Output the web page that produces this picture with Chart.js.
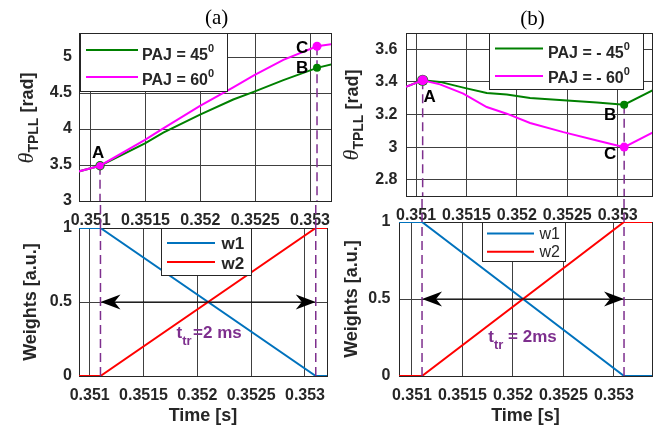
<!DOCTYPE html>
<html>
<head>
<meta charset="utf-8">
<title>PLL angle and weights during the transition</title>
<script src="https://cdn.jsdelivr.net/npm/chart.js@4.4.1/dist/chart.umd.min.js"></script>
<style>
  html, body { margin: 0; background: #fff; }
  #fig { position: relative; width: 657px; height: 428px; overflow: hidden; }
  #fig canvas { position: absolute; left: 0; top: 0; }
</style>
</head>
<body>
<div id="fig">
  <canvas id="thetaA" width="657" height="428"></canvas>
  <canvas id="thetaB" width="657" height="428"></canvas>
  <canvas id="weightsA" width="657" height="428"></canvas>
  <canvas id="weightsB" width="657" height="428"></canvas>
</div>
<script>
// (a) PLL angle [rad] vs time [s], PAJ = 45 and 60 deg
const timeA = [0.35089, 0.351085, 0.351495, 0.351662, 0.351997, 0.3523, 0.352492, 0.352757, 0.353064, 0.3532];
const pajA45 = [3.41, 3.49, 3.80, 3.95, 4.20, 4.41, 4.52, 4.68, 4.85, 4.90];
const pajA60 = [3.41, 3.49, 3.85, 4.01, 4.32, 4.58, 4.75, 4.96, 5.15, 5.18];

// (b) PAJ = -45 and -60 deg
const timeB = [0.3509, 0.351066, 0.351238, 0.351469, 0.351701, 0.3519, 0.352131, 0.352461, 0.352793, 0.353064, 0.35335];
const pajB45 = [3.37, 3.41, 3.40, 3.365, 3.332, 3.322, 3.301, 3.287, 3.273, 3.26, 3.35];
const pajB60 = [3.37, 3.41, 3.385, 3.328, 3.246, 3.205, 3.148, 3.092, 3.041, 3.00, 3.09];

// point A = start of the switch, B / C = end of it
const startA = 1, endA = 8;
const startB = 1, endB = 9;

// blending weights, 2 ms ramp
const timeWa = [0.35089, 0.3511, 0.3531, 0.35321];
const timeWb = [0.35087, 0.3511, 0.3531, 0.35338];
const w1 = [1, 1, 0, 0];
const w2 = [0, 0, 1, 1];

const xTickLabels = ['0.351', '0.3515', '0.352', '0.3525', '0.353'];
const yTicksThetaA = ['3', '3.5', '4', '4.5', '5'];
const yTicksThetaB = ['2.8', '3', '3.2', '3.4', '3.6'];
const yTicksW = ['0', '0.5', '1'];

const xLimThetaA = [0.3508933, 0.3531915], yLimThetaA = [3, 5.334];
const xLimThetaB = [0.3509008, 0.35334], yLimThetaB = [2.7, 3.7];
const xLimWa = [0.3509006, 0.3532044], xLimWb = [0.350872, 0.353377], yLimW = [0, 1];

const W = 657, H = 428;
const areaThetaA = { left: 79, top: 33, right: 331, bottom: 201 };
const areaWa = { left: 79, top: 228, right: 327, bottom: 376 };
const areaThetaB = { left: 406, top: 33, right: 652, bottom: 196 };
const areaWb = { left: 399, top: 222, right: 652, bottom: 376 };

const sans = '"Liberation Sans", Arial, Helvetica, sans-serif';
const serif = '"Liberation Serif", "Times New Roman", serif';
const ink = '#262626';
const gridCol = '#404040';
const purple = '#7E2F8E';
const green = '#008000', magenta = '#FF00FF', blue = '#0072BD', red = '#FF0000';
const tickFont = { family: sans, size: 16, weight: 'bold' };
const titleFont = { family: sans, size: 18, weight: 'bold' };

Chart.defaults.font.family = sans;

const pts = (xs, ys) => xs.map((x, i) => ({ x, y: ys[i] }));

function series(xs, ys, color, order, radii) {
  return {
    data: pts(xs, ys),
    borderColor: color,
    backgroundColor: color,
    pointBackgroundColor: color,
    pointBorderColor: color,
    pointBorderWidth: 0,
    pointRadius: radii ? (c => radii[c.dataIndex] || 0) : 0,
    order
  };
}

function guide(x, yFrom, yTo, order) {
  return {
    data: [{ x, y: yFrom }, { x, y: yTo }],
    borderColor: purple, borderWidth: 1.5, borderDash: [9, 5],
    pointRadius: 0, order
  };
}

// text made of runs with their own font / offset (sub- and superscripts)
function rich(ctx, x, y, parts, opts = {}) {
  ctx.save();
  ctx.translate(x, y);
  if (opts.rotate) ctx.rotate(-Math.PI / 2);
  ctx.textBaseline = 'alphabetic';
  ctx.textAlign = 'left';
  let total = 0;
  parts.forEach(p => { ctx.font = p.font; total += ctx.measureText(p.text).width + (p.gap || 0); });
  let cx = opts.align === 'center' ? -total / 2 : 0;
  parts.forEach(p => {
    ctx.font = p.font;
    cx += p.gap || 0;
    ctx.fillStyle = p.color || opts.color || ink;
    ctx.fillText(p.text, cx, p.dy || 0);
    cx += ctx.measureText(p.text).width;
  });
  ctx.restore();
}

function legendBox(ctx, x, y, w, h, rows) {
  ctx.save();
  ctx.fillStyle = '#fff';
  ctx.fillRect(x, y, w, h);
  ctx.strokeStyle = ink;
  ctx.lineWidth = 1;
  ctx.strokeRect(x + 0.5, y + 0.5, w - 1, h - 1);
  rows.forEach(r => {
    ctx.strokeStyle = r.color;
    ctx.lineWidth = 2;
    ctx.beginPath();
    ctx.moveTo(r.x0, r.y);
    ctx.lineTo(r.x1, r.y);
    ctx.stroke();
    rich(ctx, r.tx, r.base, r.parts);
  });
  ctx.restore();
}

const paj = s => [
  { text: s, font: `bold 16px ${sans}` },
  { text: '0', font: `bold 11px ${sans}`, dy: -8 }
];

const ttr = (rest, gap) => [
  { text: 't', font: `bold 17px ${sans}` },
  { text: 'tr', font: `bold 13px ${sans}`, dy: 7 },
  { text: rest, font: `bold 17px ${sans}`, gap }
];

function tag(ctx, s, x, y) {
  ctx.save();
  ctx.font = `bold 17px ${sans}`;
  ctx.fillStyle = '#000';
  ctx.textAlign = 'center';
  ctx.textBaseline = 'middle';
  ctx.fillText(s, x, y);
  ctx.restore();
}

function panelTitle(ctx, s, x, y) {
  ctx.save();
  ctx.font = `21px ${serif}`;
  ctx.fillStyle = '#000';
  ctx.textAlign = 'center';
  ctx.fillText(s, x, y);
  ctx.restore();
}

function thetaTitle(ctx, x, y) {
  rich(ctx, x, y, [
    { text: '\u03B8', font: `italic 22px ${serif}` },
    { text: 'TPLL', font: `bold 14px ${sans}`, dy: 5 },
    { text: ' [rad]', font: `bold 18px ${sans}` }
  ], { rotate: true, align: 'center' });
}

// double-headed arrow spanning the ramp
function arrow(ctx, x0, x1, y) {
  ctx.save();
  ctx.strokeStyle = '#000';
  ctx.fillStyle = '#000';
  ctx.lineWidth = 1.2;
  ctx.beginPath();
  ctx.moveTo(x0 + 4, y);
  ctx.lineTo(x1 - 4, y);
  ctx.stroke();
  [[x0, -1], [x1, 1]].forEach(([tip, dir]) => {
    ctx.beginPath();
    ctx.moveTo(tip, y);
    ctx.lineTo(tip - dir * 20, y - 7.5);
    ctx.lineTo(tip - dir * 14, y);
    ctx.lineTo(tip - dir * 20, y + 7.5);
    ctx.closePath();
    ctx.fill();
  });
  ctx.restore();
}

// dashed guide continued through the gap between the upper and lower axes
function connect(ctx, xs, yFrom, yTo) {
  ctx.save();
  ctx.strokeStyle = purple;
  ctx.lineWidth = 1.5;
  ctx.setLineDash([9, 5]);
  xs.forEach(x => {
    ctx.beginPath();
    ctx.moveTo(x, yFrom);
    ctx.lineTo(x, yTo);
    ctx.stroke();
  });
  ctx.restore();
}

const frame = {
  id: 'frame',
  beforeDatasetsDraw(chart) {
    const { ctx, chartArea: a } = chart;
    ctx.save();
    ctx.strokeStyle = ink;
    ctx.lineWidth = 1;
    ctx.strokeRect(Math.round(a.left) + 0.5, Math.round(a.top) + 0.5,
      Math.round(a.right - a.left), Math.round(a.bottom - a.top));
    ctx.restore();
  }
};

function panel(id, o) {
  const xVals = xTickLabels.map(Number);
  const yVals = o.yTicks.map(Number);
  return new Chart(document.getElementById(id), {
    type: 'line',
    data: { datasets: o.datasets },
    options: {
      responsive: false,
      animation: false,
      devicePixelRatio: 1,
      events: [],
      layout: { padding: { left: o.padLeft, top: o.area.top, right: W - o.area.right, bottom: 0 } },
      plugins: { legend: { display: false }, tooltip: { enabled: false } },
      elements: { line: { borderWidth: 2, tension: 0 }, point: { radius: 0, hoverRadius: 0 } },
      scales: {
        x: {
          type: 'linear', min: o.xLim[0], max: o.xLim[1],
          afterFit: s => { s.height = H - o.area.bottom; },
          afterBuildTicks: s => { s.ticks = xVals.map(v => ({ value: v })); },
          ticks: { padding: 9.5, color: ink, font: tickFont, maxRotation: 0, autoSkip: false,
                   callback: (v, i) => xTickLabels[i] },
          grid: { color: gridCol, lineWidth: 1, drawTicks: false },
          border: { display: false },
          title: o.xTitle
            ? { display: true, text: o.xTitle, color: ink, font: titleFont, padding: { top: 0, bottom: 1 } }
            : { display: false }
        },
        y: {
          type: 'linear', min: o.yLim[0], max: o.yLim[1],
          afterFit: s => { s.width = o.area.left - o.padLeft; },
          afterBuildTicks: s => { s.ticks = yVals.map(v => ({ value: v })); },
          ticks: { padding: o.yPad, color: ink, font: tickFont, callback: (v, i) => o.yTicks[i] },
          grid: { color: gridCol, lineWidth: 1, drawTicks: false },
          border: { display: false },
          title: o.yTitle
            ? { display: true, text: o.yTitle, color: ink, font: titleFont, padding: { top: o.yTitlePad, bottom: 0 } }
            : { display: false }
        }
      }
    },
    plugins: [frame, { id: 'decor', afterDatasetsDraw: chart => o.decor(chart) }]
  });
}

// (a) upper axes
panel('thetaA', {
  area: areaThetaA, padLeft: 0, xLim: xLimThetaA, yLim: yLimThetaA, yTicks: yTicksThetaA, yPad: 7,
  datasets: [
    series(timeA, pajA60, magenta, 0, { [startA]: 3.7, [endA]: 4.5 }),
    series(timeA, pajA45, green, 1, { [startA]: 4.7, [endA]: 4 }),
    guide(timeA[startA], pajA60[startA], yLimThetaA[0], 2),
    guide(timeA[endA], pajA60[endA], yLimThetaA[0], 2)
  ],
  decor: chart => {
    const { ctx } = chart, sx = chart.scales.x, sy = chart.scales.y;
    legendBox(ctx, 80, 33, 148, 59, [
      { color: green, x0: 86, x1: 138, y: 50, tx: 142, base: 59.5, parts: paj('PAJ = 45') },
      { color: magenta, x0: 86, x1: 138, y: 77, tx: 142, base: 85, parts: paj('PAJ = 60') }
    ]);
    tag(ctx, 'A', sx.getPixelForValue(timeA[startA]) - 2, sy.getPixelForValue(pajA60[startA]) - 12);
    tag(ctx, 'C', sx.getPixelForValue(timeA[endA]) - 15, sy.getPixelForValue(pajA60[endA]) + 2);
    tag(ctx, 'B', sx.getPixelForValue(timeA[endA]) - 15, sy.getPixelForValue(pajA45[endA]));
    panelTitle(ctx, '(a)', 216.7, 23.5);
    thetaTitle(ctx, 32.5, 118);
  }
});

// (b) upper axes
panel('thetaB', {
  area: areaThetaB, padLeft: 330, xLim: xLimThetaB, yLim: yLimThetaB, yTicks: yTicksThetaB, yPad: 8.5,
  datasets: [
    series(timeB, pajB60, magenta, 0, { [startB]: 5, [endB]: 4.5 }),
    series(timeB, pajB45, green, 1, { [startB]: 5.6, [endB]: 4 }),
    guide(timeB[startB], pajB60[startB], yLimThetaB[0], 2),
    guide(timeB[endB], pajB45[endB], yLimThetaB[0], 2)
  ],
  decor: chart => {
    const { ctx } = chart, sx = chart.scales.x, sy = chart.scales.y;
    legendBox(ctx, 489, 33, 155, 57, [
      { color: green, x0: 495, x1: 543, y: 48.5, tx: 548, base: 58, parts: paj('PAJ = - 45') },
      { color: magenta, x0: 495, x1: 543, y: 76, tx: 548, base: 83, parts: paj('PAJ = - 60') }
    ]);
    tag(ctx, 'A', sx.getPixelForValue(timeB[startB]) + 7, sy.getPixelForValue(pajB60[startB]) + 17);
    tag(ctx, 'B', sx.getPixelForValue(timeB[endB]) - 14, sy.getPixelForValue(pajB45[endB]) + 11);
    tag(ctx, 'C', sx.getPixelForValue(timeB[endB]) - 14, sy.getPixelForValue(pajB60[endB]) + 7);
    panelTitle(ctx, '(b)', 532.5, 25);
    thetaTitle(ctx, 358, 115);
  }
});

// (a) weights
panel('weightsA', {
  area: areaWa, padLeft: 0, xLim: xLimWa, yLim: yLimW, yTicks: yTicksW, yPad: 7,
  xTitle: 'Time [s]', yTitle: 'Weights [a.u.]', yTitlePad: 20,
  datasets: [
    guide(timeWa[1], yLimW[0], yLimW[1], -1),
    guide(timeWa[2], yLimW[0], yLimW[1], -1),
    series(timeWa, w2, red, 0),
    series(timeWa, w1, blue, 1)
  ],
  decor: chart => {
    const { ctx } = chart, sx = chart.scales.x, sy = chart.scales.y;
    const x0 = sx.getPixelForValue(timeWa[1]), x1 = sx.getPixelForValue(timeWa[2]);
    connect(ctx, [x0, x1], chart.chartArea.top, areaThetaA.bottom);
    legendBox(ctx, 161, 228, 91, 48, [
      { color: blue, x0: 167, x1: 215, y: 243, tx: 221.5, base: 248.5, parts: [{ text: 'w1', font: `bold 17px ${sans}` }] },
      { color: red, x0: 167, x1: 215, y: 262, tx: 221.5, base: 268.5, parts: [{ text: 'w2', font: `bold 17px ${sans}` }] }
    ]);
    arrow(ctx, x0, x1, sy.getPixelForValue(0.5));
    rich(ctx, 176.5, 337.5, ttr('=2 ms', 1.5), { color: purple });
  }
});

// (b) weights
panel('weightsB', {
  area: areaWb, padLeft: 330, xLim: xLimWb, yLim: yLimW, yTicks: yTicksW, yPad: 8.5,
  xTitle: 'Time [s]', yTitle: 'Weights [a.u.]', yTitlePad: 11.5,
  datasets: [
    guide(timeWb[1], yLimW[0], yLimW[1], -1),
    guide(timeWb[2], yLimW[0], yLimW[1], -1),
    series(timeWb, w2, red, 0),
    series(timeWb, w1, blue, 1)
  ],
  decor: chart => {
    const { ctx } = chart, sx = chart.scales.x, sy = chart.scales.y;
    const x0 = sx.getPixelForValue(timeWb[1]), x1 = sx.getPixelForValue(timeWb[2]);
    connect(ctx, [x0, x1], chart.chartArea.top, areaThetaB.bottom);
    legendBox(ctx, 482, 222, 84, 40, [
      { color: blue, x0: 487, x1: 534, y: 233.5, tx: 539.5, base: 238.5, parts: [{ text: 'w1', font: `16px ${sans}` }] },
      { color: red, x0: 487, x1: 534, y: 251.7, tx: 539.5, base: 256.5, parts: [{ text: 'w2', font: `16px ${sans}` }] }
    ]);
    arrow(ctx, x0, x1, sy.getPixelForValue(0.5));
    rich(ctx, 488.3, 341.7, ttr(' = 2ms', 0), { color: purple });
  }
});
</script>
</body>
</html>
